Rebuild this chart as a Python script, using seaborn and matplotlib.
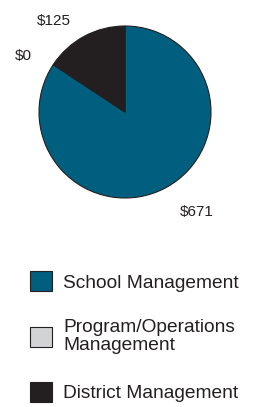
import matplotlib
matplotlib.use("Agg")
import matplotlib.pyplot as plt
from matplotlib.patches import Patch
import seaborn as sns

# data
categories = ["School Management", "Program/Operations\nManagement", "District Management"]
values = [671, 0, 125]
value_labels = ["$671", "$0", "$125"]
colors = ["#005F7E", "#D1D3D4", "#231F20"]

sns.set_theme(style="white")
plt.rcParams["font.family"] = ["Liberation Sans", "DejaVu Sans"]

fig = plt.figure(figsize=(2.58, 4.07), dpi=100)
ax = fig.add_axes([0.151, 0.5135, 0.667, 0.4226])

wedges, _ = ax.pie(values, colors=colors, startangle=90, counterclock=False,
                   wedgeprops=dict(edgecolor="#231F20", linewidth=0.8))
ax.set_xlim(-1, 1)
ax.set_ylim(-1, 1)
ax.set_aspect("equal")
ax.axis("off")

# value labels around the pie
label_pos = [(0.84, -1.16), (-1.18, 0.65), (-0.83, 1.06)]
for (x, y), txt in zip(label_pos, value_labels):
    ax.text(x, y, txt, ha="center", va="center", fontsize=11, color="#231F20")

handles = [Patch(facecolor=c, edgecolor="#231F20", linewidth=0.8) for c in colors]
leg = fig.legend(handles, categories, loc="upper left", bbox_to_anchor=(0.116, 0.334),
                 frameon=False, fontsize=13.8, handlelength=1.15, handleheight=1.25,
                 handletextpad=0.57, labelspacing=1.45, borderpad=0, borderaxespad=0)
for t in leg.get_texts():
    t.set_linespacing(1.05)
    t.set_color("#231F20")

fig.savefig("out.png", dpi=100)
